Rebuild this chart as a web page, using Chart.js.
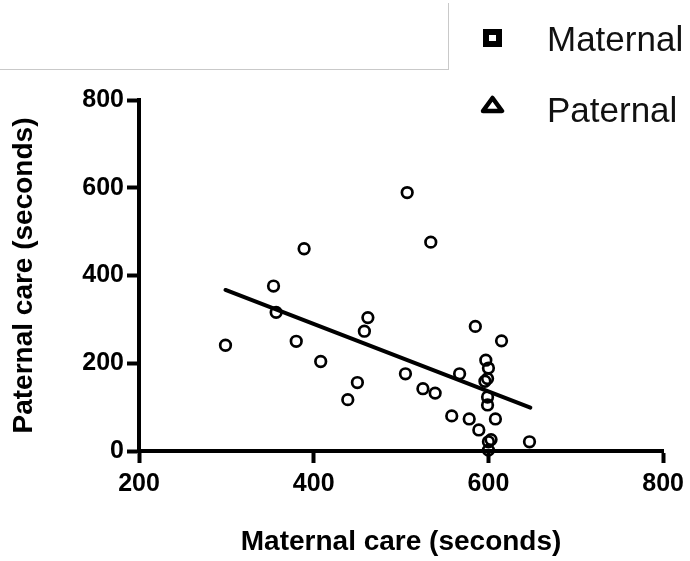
<!DOCTYPE html>
<html lang="en">
<head>
    <meta charset="UTF-8">
    <title>Paternal vs maternal care</title>
    <script src="https://cdn.jsdelivr.net/npm/chart.js"></script>
    <style>
        body { margin: 0; background: #fff; }
        #wrap { position: relative; width: 690px; height: 561px; }
        #grafico { position: absolute; left: 0; top: 0; }
        .caja { position: absolute; left: 0; top: 3px; width: 449px; height: 67px;
                box-sizing: border-box; border-right: 1px solid #c9c9c9; border-bottom: 1px solid #c9c9c9; }
        .leyenda { position: absolute; left: 547px; font: 35px "Liberation Sans", Arial, sans-serif;
                   line-height: 35px; color: #111; }
        .cuadro { position: absolute; left: 483px; top: 29px; width: 19px; height: 18px;
                  box-sizing: border-box; border: 6px solid #000; }
        .triangulo { position: absolute; left: 480px; top: 95px; }
    </style>
</head>
<body>
<div id="wrap">
    <canvas id="grafico" width="690" height="561"></canvas>
    <div class="caja"></div>
    <div class="cuadro"></div>
    <div class="leyenda" style="top:21px">Maternal</div>
    <svg class="triangulo" width="26" height="20">
        <polygon points="12.5,3 22,16 3,16" fill="none" stroke="#000" stroke-width="4.5" stroke-linejoin="round"/>
    </svg>
    <div class="leyenda" style="top:92px">Paternal</div>
</div>

<script>
    // datos
    const maternalCare = [299, 389, 354, 357, 380, 408, 462, 458, 450, 439, 507, 534, 505, 525, 539, 567,
                          585, 615, 597, 600, 599, 596, 599, 599, 558, 578, 608, 589, 603, 600, 600, 647];
    const paternalCare = [241, 461, 376, 316, 250, 204, 304, 273, 156, 117, 589, 476, 176, 142, 132, 176,
                          284, 251, 207, 189, 165, 159, 123, 105, 80, 73, 73, 48, 26, 21, 2, 21];
    const fitX = [299, 648];
    const fitY = [367, 99];
    const xTicks = [200, 400, 600, 800];
    const yTicks = [0, 200, 400, 600, 800];

    const puntos = maternalCare.map((x, i) => ({ x: x, y: paternalCare[i] }));
    const recta = fitX.map((x, i) => ({ x: x, y: fitY[i] }));

    const fuenteTick = { family: '"Liberation Sans", Arial, sans-serif', size: 25, weight: 'bold' };
    const fuenteTitulo = { family: '"Liberation Sans", Arial, sans-serif', size: 28, weight: 'bold' };

    new Chart(document.getElementById('grafico'), {
        type: 'scatter',
        data: {
            datasets: [
                {
                    label: 'Regresion',
                    data: recta,
                    showLine: true,
                    borderColor: '#000',
                    borderWidth: 4,
                    borderCapStyle: 'round',
                    pointRadius: 0,
                    clip: false
                },
                {
                    label: 'Datos',
                    data: puntos,
                    pointStyle: 'circle',
                    pointRadius: 5.3,
                    pointBorderWidth: 2.7,
                    pointBorderColor: '#000',
                    pointBackgroundColor: 'rgba(0,0,0,0)',
                    clip: false
                }
            ]
        },
        options: {
            responsive: false,
            animation: false,
            layout: { padding: { top: 100, right: 23, left: 0, bottom: 0 } },
            plugins: { legend: { display: false }, tooltip: { enabled: false } },
            scales: {
                x: {
                    type: 'linear',
                    min: 200, max: 800,
                    afterFit: (s) => { s.height = 110; },
                    afterBuildTicks: (s) => { s.ticks = xTicks.map(v => ({ value: v })); },
                    border: { display: true, color: '#000', width: 4 },
                    grid: { drawOnChartArea: false, drawTicks: true, tickLength: 12, tickWidth: 4, tickColor: '#000' },
                    ticks: { color: '#000', font: fuenteTick, padding: 6, maxRotation: 0 },
                    title: { display: true, text: 'Maternal care (seconds)', color: '#000', font: fuenteTitulo,
                             padding: { top: 0, bottom: 2 } }
                },
                y: {
                    type: 'linear',
                    min: 0, max: 800,
                    afterFit: (s) => { s.width = 139; },
                    afterBuildTicks: (s) => { s.ticks = yTicks.map(v => ({ value: v })); },
                    border: { display: true, color: '#000', width: 4 },
                    grid: { drawOnChartArea: false, drawTicks: true, tickLength: 12, tickWidth: 4, tickColor: '#000' },
                    ticks: { color: '#000', font: fuenteTick, padding: 3 },
                    title: { display: true, text: 'Paternal care (seconds)', color: '#000', font: fuenteTitulo,
                             padding: { top: 7, bottom: 0 } }
                }
            }
        }
    });
</script>
</body>
</html>
